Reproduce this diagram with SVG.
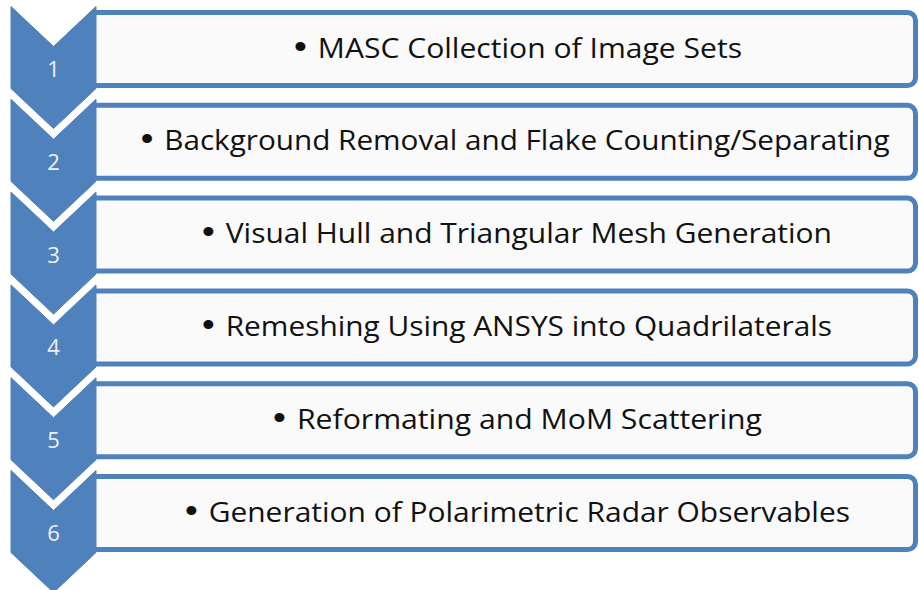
<svg xmlns="http://www.w3.org/2000/svg" width="919" height="590" viewBox="0 0 919 590">
<style>
.chev{fill:#4F81BD;stroke:#4F81BD;stroke-width:1;stroke-linejoin:round}
.box{fill:#FAFAFA;stroke:#4F81BD;stroke-width:5}
.num{font-family:"Open Sans","Liberation Sans",sans-serif;font-size:22px;fill:#EEF2F8;text-anchor:middle}
.lbl{font-family:"Open Sans","Liberation Sans",sans-serif;font-size:28px;fill:#111111}
.bul{font-family:"Liberation Sans",sans-serif;font-size:34px}
</style>
<rect width="919" height="590" fill="#FFFFFF"/>
<g id="step1">
<path class="box" d="M96,12.5 H907.5 a8,8 0 0 1 8,8 V77.5 a8,8 0 0 1 -8,8 H96"/>
<path class="chev" d="M11,6.5 L53.5,46.5 L96,6.5 V88.5 L53.5,128.5 L11,88.5 Z"/>
<text class="num" x="53.5" y="77">1</text>
<text class="lbl" x="294" y="57.5" textLength="448" lengthAdjust="spacingAndGlyphs"><tspan class="bul">•</tspan><tspan dx="3"> MASC Collection of Image Sets</tspan></text>
</g>
<g id="step2">
<path class="box" d="M96,105.3 H907.5 a8,8 0 0 1 8,8 V170.3 a8,8 0 0 1 -8,8 H96"/>
<path class="chev" d="M11,99.3 L53.5,139.3 L96,99.3 V181.3 L53.5,221.3 L11,181.3 Z"/>
<text class="num" x="53.5" y="169.8">2</text>
<text class="lbl" x="140.7" y="150.3" textLength="749" lengthAdjust="spacingAndGlyphs"><tspan class="bul">•</tspan><tspan dx="3"> Background Removal and Flake Counting/Separating</tspan></text>
</g>
<g id="step3">
<path class="box" d="M96,198.1 H907.5 a8,8 0 0 1 8,8 V263.1 a8,8 0 0 1 -8,8 H96"/>
<path class="chev" d="M11,192.1 L53.5,232.1 L96,192.1 V274.1 L53.5,314.1 L11,274.1 Z"/>
<text class="num" x="53.5" y="262.6">3</text>
<text class="lbl" x="202" y="243.1" textLength="630" lengthAdjust="spacingAndGlyphs"><tspan class="bul">•</tspan><tspan dx="3"> Visual Hull and Triangular Mesh Generation</tspan></text>
</g>
<g id="step4">
<path class="box" d="M96,290.9 H907.5 a8,8 0 0 1 8,8 V355.9 a8,8 0 0 1 -8,8 H96"/>
<path class="chev" d="M11,284.9 L53.5,324.9 L96,284.9 V366.9 L53.5,406.9 L11,366.9 Z"/>
<text class="num" x="53.5" y="355.4">4</text>
<text class="lbl" x="202" y="335.9" textLength="630" lengthAdjust="spacingAndGlyphs"><tspan class="bul">•</tspan><tspan dx="3"> Remeshing Using ANSYS into Quadrilaterals</tspan></text>
</g>
<g id="step5">
<path class="box" d="M96,383.7 H907.5 a8,8 0 0 1 8,8 V448.7 a8,8 0 0 1 -8,8 H96"/>
<path class="chev" d="M11,377.7 L53.5,417.7 L96,377.7 V459.7 L53.5,499.7 L11,459.7 Z"/>
<text class="num" x="53.5" y="448.2">5</text>
<text class="lbl" x="273" y="428.7" textLength="489" lengthAdjust="spacingAndGlyphs"><tspan class="bul">•</tspan><tspan dx="3"> Reformating and MoM Scattering</tspan></text>
</g>
<g id="step6">
<path class="box" d="M96,476.5 H907.5 a8,8 0 0 1 8,8 V541.5 a8,8 0 0 1 -8,8 H96"/>
<path class="chev" d="M11,470.5 L53.5,510.5 L96,470.5 V552.5 L53.5,592.5 L11,552.5 Z"/>
<text class="num" x="53.5" y="541">6</text>
<text class="lbl" x="185" y="521.5" textLength="665" lengthAdjust="spacingAndGlyphs"><tspan class="bul">•</tspan><tspan dx="3"> Generation of Polarimetric Radar Observables</tspan></text>
</g>
<g id="connectors"></g>
</svg>
